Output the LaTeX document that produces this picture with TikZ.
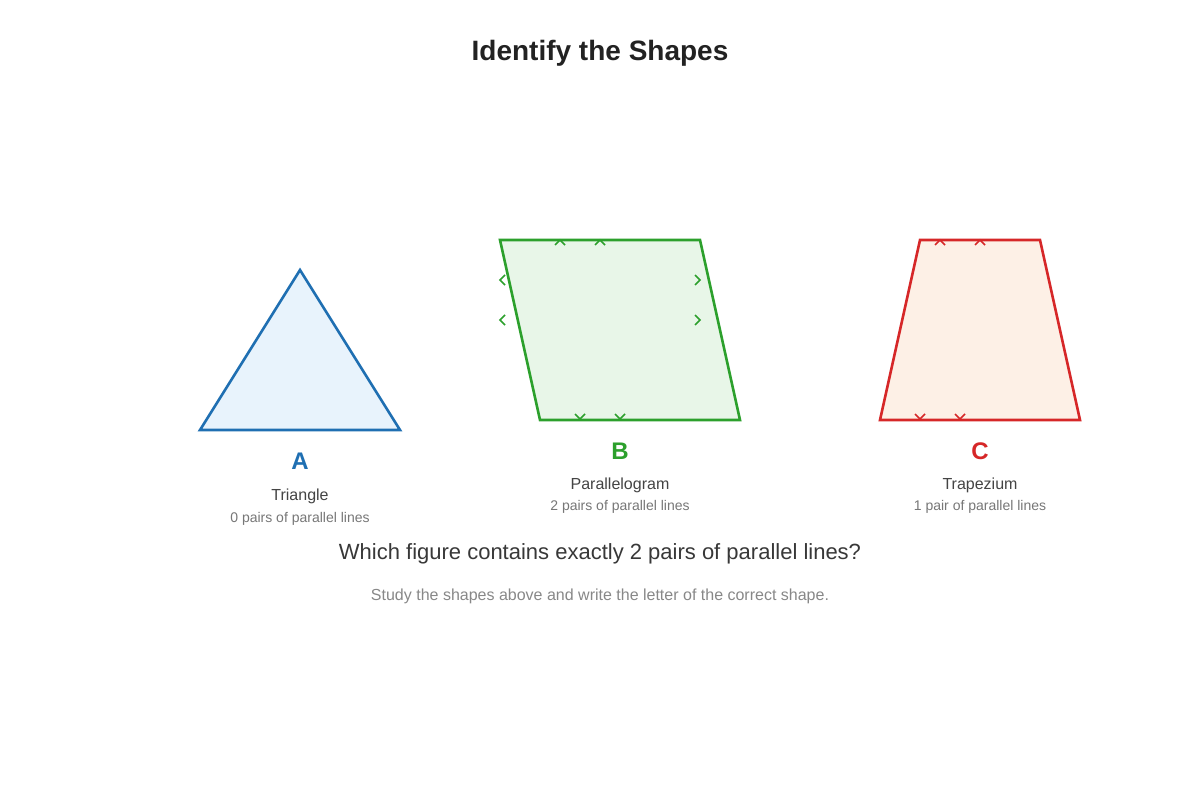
\documentclass[tikz,border=0pt]{standalone}
\usepackage{fontspec}
\setmainfont{Liberation Sans}
\definecolor{cblue}{HTML}{1F6FB2}
\definecolor{cgreen}{HTML}{2CA02C}
\definecolor{cred}{HTML}{D62728}
\definecolor{fblue}{HTML}{E8F3FC}
\definecolor{fgreen}{HTML}{E8F6E8}
\definecolor{fred}{HTML}{FDF0E6}
\definecolor{tdark}{HTML}{222222}
\definecolor{tmid}{HTML}{444444}
\definecolor{tlight}{HTML}{777777}
\definecolor{tsub}{HTML}{888888}
\newcommand{\fs}[1]{\fontsize{#1}{#1}\selectfont}
\begin{document}
\begin{tikzpicture}[x=1pt,y=-1pt,
  shapeline/.style={line width=2.6pt,line join=miter},
  tick/.style={line width=1.6pt},
  letterlbl/.style={anchor=base,font=\fs{24}\bfseries,inner sep=0pt},
  namelbl/.style={anchor=base,font=\fs{16},text=tmid,inner sep=0pt},
  pairlbl/.style={anchor=base,font=\fs{14},text=tlight,inner sep=0pt}]
\useasboundingbox[fill=white] (0,0) rectangle (1200,800);
\node[anchor=base,font=\fs{28}\bfseries,text=tdark,inner sep=0pt] (title) at (600,60) {Identify the Shapes};
% Triangle
\draw[shapeline,draw=cblue,fill=fblue] (200,430) -- (300,270) -- (400,430) -- cycle;
\node[letterlbl,text=cblue] (la) at (300,469) {A};
\node[namelbl] (na) at (300,500) {Triangle};
\node[pairlbl] (pa) at (300,522) {0 pairs of parallel lines};
% Parallelogram
\draw[shapeline,draw=cgreen,fill=fgreen] (500,240) -- (700,240) -- (740,420) -- (540,420) -- cycle;
\foreach \x in {560,600} \draw[tick,cgreen] (\x-5,245) -- (\x,240) -- (\x+5,245);
\foreach \x in {580,620} \draw[tick,cgreen] (\x-5,414) -- (\x,419) -- (\x+5,414);
\foreach \y in {280,320} \draw[tick,cgreen] (505,\y-5) -- (500,\y) -- (505,\y+5);
\foreach \y in {280,320} \draw[tick,cgreen] (695,\y-5) -- (700,\y) -- (695,\y+5);
\node[letterlbl,text=cgreen] (lb) at (620,459) {B};
\node[namelbl] (nb) at (620,489) {Parallelogram};
\node[pairlbl] (pb) at (620,510) {2 pairs of parallel lines};
% Trapezium
\draw[shapeline,draw=cred,fill=fred] (920,240) -- (1040,240) -- (1080,420) -- (880,420) -- cycle;
\foreach \x in {940,980} \draw[tick,cred] (\x-5,245) -- (\x,240) -- (\x+5,245);
\foreach \x in {920,960} \draw[tick,cred] (\x-5,414) -- (\x,419) -- (\x+5,414);
\node[letterlbl,text=cred] (lc) at (980,459) {C};
\node[namelbl] (nc) at (980,489) {Trapezium};
\node[pairlbl] (pc) at (980,510) {1 pair of parallel lines};
% Question
\node[anchor=base,font=\fs{22},text=tdark!90,inner sep=0pt] (q) at (600,559) {Which figure contains exactly 2 pairs of parallel lines?};
\node[anchor=base,font=\fs{16},text=tsub,inner sep=0pt] (s) at (600,600) {Study the shapes above and write the letter of the correct shape.};
\end{tikzpicture}
\end{document}
